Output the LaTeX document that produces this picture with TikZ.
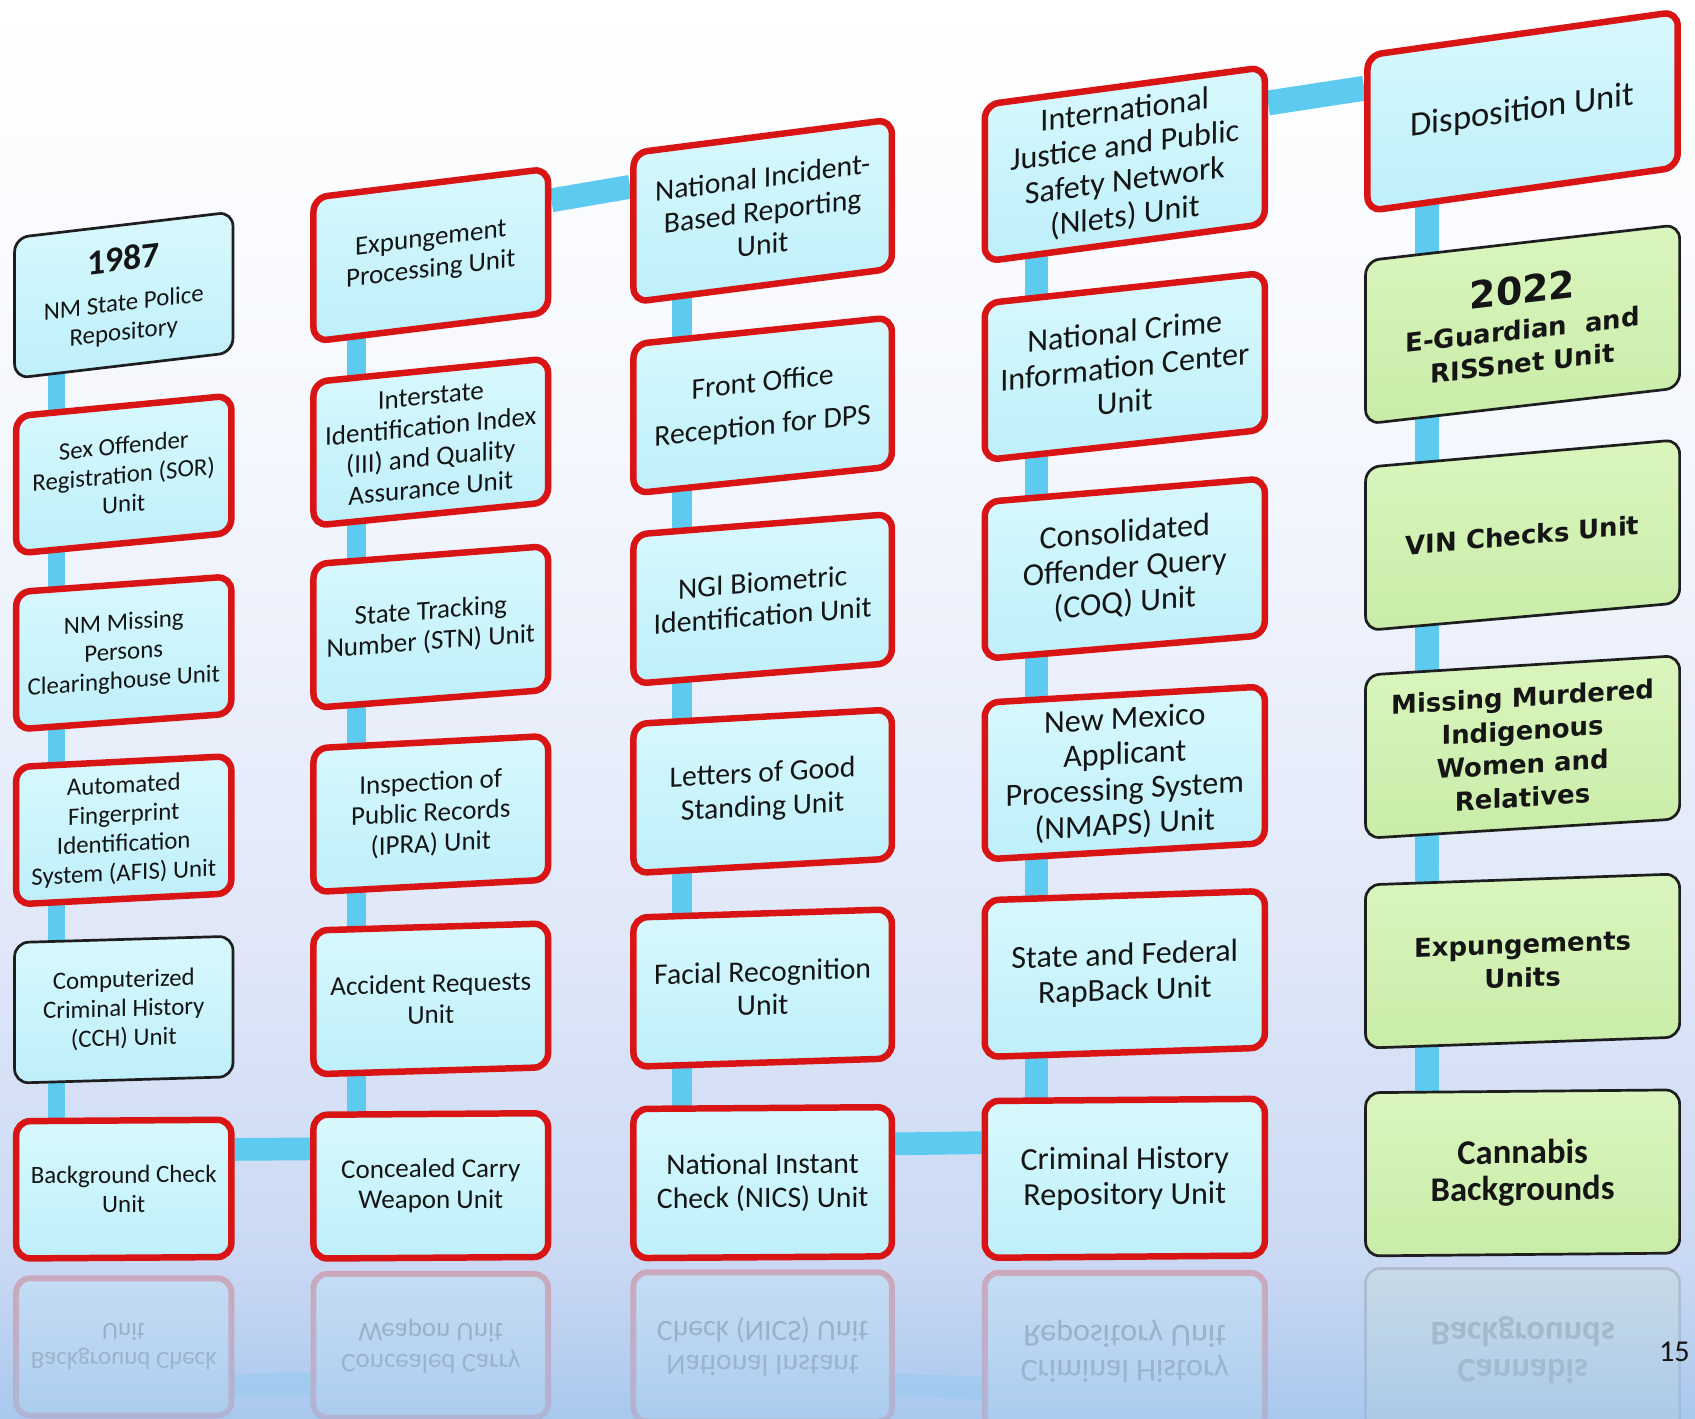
\documentclass[tikz,border=0pt]{standalone}
\usepackage{fontspec}
\setmainfont{Carlito}
\newfontfamily\verd{DejaVu Sans}
\usetikzlibrary{fadings}
\pgfdeclarelayer{bg}
\pgfdeclarelayer{conn}
\pgfsetlayers{bg,conn,main}
\definecolor{redb}{HTML}{D91414}
\definecolor{darkb}{HTML}{1E1E1E}
\definecolor{cyanT}{HTML}{D8F9FD}
\definecolor{cyanB}{HTML}{BEEFFA}
\definecolor{grnT}{HTML}{DAF6BE}
\definecolor{grnB}{HTML}{C9ECA8}
\definecolor{linkc}{HTML}{5CCBEF}
\definecolor{txt}{HTML}{151515}
\definecolor{bgA}{HTML}{F4F7FD}
\definecolor{bgB}{HTML}{DFE7F8}
\definecolor{bgC}{HTML}{C9D8F3}
\definecolor{bgD}{HTML}{A9C8EE}
\tikzset{
  ubox/.style={rectangle, rounded corners=13pt, inner sep=0pt, align=center, text=txt, top color=cyanT, bottom color=cyanB},
  redbox/.style={ubox, draw=redb, line width=6pt},
  blkbox/.style={ubox, draw=darkb, line width=2.5pt},
  grnbox/.style={ubox, draw=darkb, line width=2.5pt, top color=grnT, bottom color=grnB},
  rref/.style={rectangle, rounded corners=13pt, inner sep=0pt, align=center, text=txt, yscale=-1,
     draw=redb, draw opacity=0.25, line width=5.5pt, fill=cyanB, fill opacity=0.25, text opacity=0.25},
  gref/.style={rref, draw=darkb, draw opacity=0.15, line width=2.5pt, fill=grnB, fill opacity=0.15, text opacity=0.18},
  fA/.style={font=\fontsize{23}{27}\selectfont},
  fB/.style={font=\fontsize{25}{28.5}\selectfont},
  fC/.style={font=\fontsize{27.5}{31}\selectfont},
  fD/.style={font=\fontsize{29.7}{32.7}\selectfont},
  fE/.style={font=\fontsize{32}{36}\selectfont},
  fG/.style={font=\verd\bfseries\fontsize{24}{31}\selectfont},
  fK/.style={font=\bfseries\fontsize{32}{34}\selectfont},
  linkbar/.style={draw=linkc, line width=#1},
  reflbar/.style={draw=linkc, draw opacity=0.3, line width=#1},
}
\begin{document}
\begin{tikzpicture}[x=1pt,y=-1pt]
\useasboundingbox (0,0) rectangle (1568,1312);
\begin{pgfonlayer}{bg}
  \shade[top color=white, bottom color=bgA] (0,-1) rectangle (1568,421);
  \shade[top color=bgA, bottom color=bgB] (0,420) rectangle (1568,881);
  \shade[top color=bgB, bottom color=bgC] (0,880) rectangle (1568,1176);
  \shade[top color=bgC, bottom color=bgD] (0,1175) rectangle (1568,1313);
\end{pgfonlayer}

% ---------- column 1
\node[blkbox,fA,minimum width=202pt,minimum height=130pt,yslant=0.118] (c1a) at (114.5,273)
  {{\fontsize{33}{34}\selectfont\bfseries 1987}\\[10pt]NM State Police\\Repository};
\node[redbox,fA,minimum width=199pt,minimum height=127pt,yslant=0.096] (c1b) at (114.5,439)
  {Sex Offender\\Registration (SOR)\\Unit};
\node[redbox,fA,minimum width=199pt,minimum height=127pt,yslant=0.073] (c1c) at (114.5,604)
  {NM Missing\\Persons\\Clearinghouse Unit};
\node[redbox,fA,minimum width=199pt,minimum height=127pt,yslant=0.051] (c1d) at (114.5,768)
  {Automated\\Fingerprint\\Identification\\System (AFIS) Unit};
\node[blkbox,fA,minimum width=202pt,minimum height=130pt,yslant=0.029] (c1e) at (114.5,934)
  {Computerized\\Criminal History\\(CCH) Unit};
\node[redbox,fA,minimum width=199pt,minimum height=127pt,yslant=0.007] (c1f) at (114.5,1100)
  {Background Check\\Unit};

% ---------- column 2
\node[redbox,fB,minimum width=217pt,minimum height=133pt,yslant=0.123] (c2a) at (398.5,236)
  {Expungement\\Processing Unit};
\node[redbox,fB,minimum width=217pt,minimum height=133pt,yslant=0.100] (c2b) at (398.5,409)
  {Interstate\\Identification Index\\(III) and Quality\\Assurance Unit};
\node[redbox,fB,minimum width=217pt,minimum height=133pt,yslant=0.077] (c2c) at (398.5,580)
  {State Tracking\\Number (STN) Unit};
\node[redbox,fB,minimum width=217pt,minimum height=133pt,yslant=0.053] (c2d) at (398.5,753)
  {Inspection of\\Public Records\\(IPRA) Unit};
\node[redbox,fB,minimum width=217pt,minimum height=133pt,yslant=0.030] (c2e) at (398.5,924)
  {Accident Requests\\Unit};
\node[redbox,fB,minimum width=217pt,minimum height=133pt,yslant=0.007] (c2f) at (398.5,1097)
  {Concealed Carry\\Weapon Unit};

% ---------- column 3
\node[redbox,fC,minimum width=239pt,minimum height=138pt,yslant=0.129] (c3a) at (705.5,195)
  {National Incident-\\Based Reporting\\Unit};
\node[redbox,fC,minimum width=239pt,minimum height=138pt,yslant=0.104] (c3b) at (705.5,375)
  {Front Office\\[9pt]Reception for DPS};
\node[redbox,fC,minimum width=239pt,minimum height=138pt,yslant=0.080] (c3c) at (705.5,554)
  {NGI Biometric\\Identification Unit};
\node[redbox,fC,minimum width=239pt,minimum height=138pt,yslant=0.056] (c3d) at (705.5,732)
  {Letters of Good\\Standing Unit};
\node[redbox,fC,minimum width=239pt,minimum height=138pt,yslant=0.032] (c3e) at (705.5,914)
  {Facial Recognition\\Unit};
\node[redbox,fC,minimum width=239pt,minimum height=138pt,yslant=0.007] (c3f) at (705.5,1094)
  {National Instant\\Check (NICS) Unit};

% ---------- column 4
\node[redbox,fD,minimum width=259pt,minimum height=145pt,yslant=0.134] (c4a) at (1040.5,152)
  {International\\Justice and Public\\Safety Network\\(Nlets) Unit};
\node[redbox,fD,minimum width=259pt,minimum height=145pt,yslant=0.109] (c4b) at (1040.5,339)
  {National Crime\\Information Center\\Unit};
\node[redbox,fD,minimum width=259pt,minimum height=145pt,yslant=0.084] (c4c) at (1040.5,526)
  {Consolidated\\Offender Query\\(COQ) Unit};
\node[redbox,fD,minimum width=259pt,minimum height=145pt,yslant=0.058] (c4d) at (1040.5,715)
  {New Mexico\\Applicant\\Processing System\\(NMAPS) Unit};
\node[redbox,fD,minimum width=259pt,minimum height=145pt,yslant=0.033] (c4e) at (1040.5,901)
  {State and Federal\\RapBack Unit};
\node[redbox,fD,minimum width=259pt,minimum height=145pt,yslant=0.008] (c4f) at (1040.5,1090)
  {Criminal History\\Repository Unit};

% ---------- column 5
\node[redbox,fE,minimum width=287pt,minimum height=144pt,yslant=0.141] (c5a) at (1408.5,103)
  {Disposition Unit};
\node[grnbox,fG,minimum width=290.5pt,minimum height=151pt,yslant=0.115] (c5b) at (1408.5,300)
  {{\fontsize{35}{36}\selectfont 2022}\\[2pt]E-Guardian\ \ and\\RISSnet Unit};
\node[grnbox,fG,minimum width=290.5pt,minimum height=151pt,yslant=0.088] (c5c) at (1408.5,495)
  {VIN Checks Unit};
\node[grnbox,fG,minimum width=290.5pt,minimum height=151pt,yslant=0.062] (c5d) at (1408.5,691)
  {Missing Murdered\\Indigenous\\Women and\\Relatives};
\node[grnbox,fG,minimum width=290.5pt,minimum height=151pt,yslant=0.035] (c5e) at (1408.5,889)
  {Expungements\\Units};
\node[grnbox,fK,minimum width=290.5pt,minimum height=151pt,yslant=0.009] (c5f) at (1408.5,1085)
  {Cannabis\\Backgrounds};

% ---------- reflections
\node[rref,fA,minimum width=199pt,minimum height=127pt] (r1) at (114.5,1246) {Background Check\\Unit};
\node[rref,fB,minimum width=217pt,minimum height=133pt] (r2) at (398.5,1245) {Concealed Carry\\Weapon Unit};
\node[rref,fC,minimum width=239pt,minimum height=138pt] (r3) at (705.5,1246) {National Instant\\Check (NICS) Unit};
\node[rref,fD,minimum width=259pt,minimum height=145pt] (r4) at (1040.5,1250) {Criminal History\\Repository Unit};
\node[gref,fK,minimum width=290.5pt,minimum height=151pt] (r5) at (1408.5,1249) {Cannabis\\Backgrounds};
% fade the reflections towards the bottom
\shade[top color=bgC, bottom color=bgD, path fading=north, opacity=0.55] (0,1172) rectangle (1568,1313);

% page number
\node[font=\fontsize{28}{30}\selectfont, text=txt] (pg) at (1549,1251) {15};

% ---------- connectors
\begin{pgfonlayer}{conn}
  \foreach \a/\b in {c1a/c1b,c1b/c1c,c1c/c1d,c1d/c1e,c1e/c1f}
    \draw[linkbar=16pt] ([xshift=-62.5pt]\a.center) -- ([xshift=-62.5pt]\b.center);
  \foreach \a/\b in {c2a/c2b,c2b/c2c,c2c/c2d,c2d/c2e,c2e/c2f}
    \draw[linkbar=18pt] ([xshift=-68.5pt]\a.center) -- ([xshift=-68.5pt]\b.center);
  \foreach \a/\b in {c3a/c3b,c3b/c3c,c3c/c3d,c3d/c3e,c3e/c3f}
    \draw[linkbar=19pt] ([xshift=-74.5pt]\a.center) -- ([xshift=-74.5pt]\b.center);
  \foreach \a/\b in {c4a/c4b,c4b/c4c,c4c/c4d,c4d/c4e,c4e/c4f}
    \draw[linkbar=21pt] ([xshift=-81.5pt]\a.center) -- ([xshift=-81.5pt]\b.center);
  \foreach \a/\b in {c5a/c5b,c5b/c5c,c5c/c5d,c5d/c5e,c5e/c5f}
    \draw[linkbar=23pt] ([xshift=-88.5pt]\a.center) -- ([xshift=-88.5pt]\b.center);
  \draw[linkbar=21pt] ([yshift=36pt]c1f.east) -- ([yshift=35pt]c2f.west);
  \draw[linkbar=22pt] ([yshift=37pt]c2a.east) -- ([yshift=38pt]c3a.west);
  \draw[linkbar=21pt] ([yshift=35pt]c3f.east) -- ([yshift=34pt]c4f.west);
  \draw[linkbar=23pt] ([yshift=39pt]c4a.east) -- ([yshift=42pt]c5a.west);
  \draw[reflbar=21pt] ([yshift=-36pt]r1.east) -- ([yshift=-35pt]r2.west);
  \draw[reflbar=21pt] ([yshift=-35pt]r3.east) -- ([yshift=-34pt]r4.west);
\end{pgfonlayer}
\end{tikzpicture}
\end{document}
